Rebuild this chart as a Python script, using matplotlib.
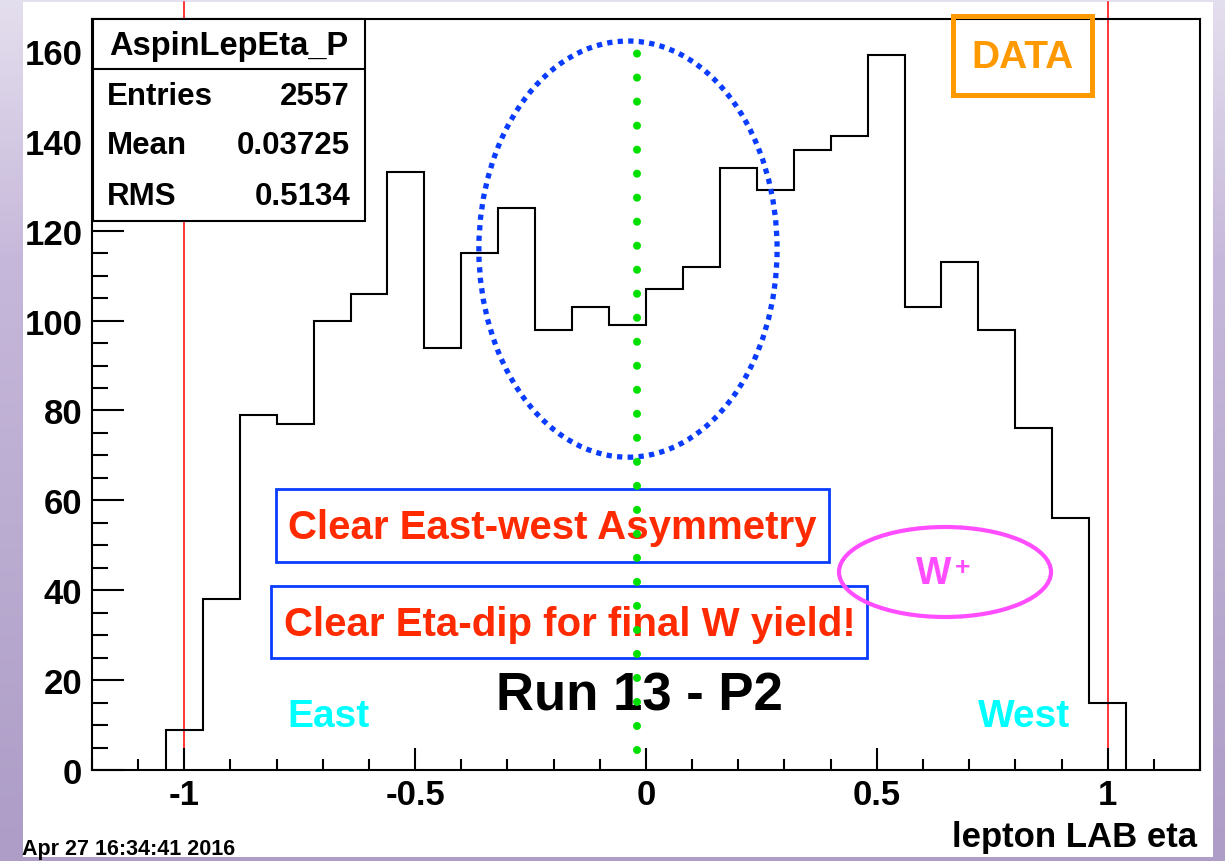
import numpy as np
import matplotlib
matplotlib.use("Agg")
import matplotlib.pyplot as plt
from matplotlib.patches import Rectangle, Ellipse
from matplotlib.colors import LinearSegmentedColormap
from matplotlib.ticker import MultipleLocator

# bin contents (26 bins of 0.08 from -1.04 to 1.04)
counts = [9, 38, 79, 77, 100, 106, 133, 94, 115, 125, 98, 103, 99,
          107, 112, 134, 129, 138, 141, 159, 103, 113, 98, 76, 56, 15]
edges = np.linspace(-1.04, 1.04, 27)

hist_name = "AspinLepEta_P"
stat_names = ["Entries", "Mean", "RMS"]
stat_values = ["2557", "0.03725", "0.5134"]
xticks = [-1, -0.5, 0, 0.5, 1]
xticklabels = ["-1", "-0.5", "0", "0.5", "1"]
yticks = [0, 20, 40, 60, 80, 100, 120, 140, 160]
cut_lines = [-1, 1]
dip_x = -0.02

W, H = 1225, 862
plt.rcParams['font.family'] = ['Liberation Sans', 'DejaVu Sans']
plt.rcParams['font.weight'] = 'bold'

fig = plt.figure(figsize=(W / 100, H / 100), dpi=100)


def P(x, y):
    # pixel position on the slide -> figure fraction
    return x / W, 1 - y / H


# purple slide backdrop with the white ROOT canvas on it
bg = fig.add_axes([0, 0, 1, 1])
bg.set_zorder(-5)
cmap = LinearSegmentedColormap.from_list(
    "slide", [(0.0, "#e4dfee"), (0.3, "#c6b8da"), (1.0, "#ad9dc7")])
bg.imshow(np.linspace(0, 1, 256)[:, None], cmap=cmap, aspect="auto",
          extent=[0, 1, 0, 1])
bg.add_patch(Rectangle(P(23, 858), 1190 / W, 855 / H, facecolor="white",
                       edgecolor="none", transform=bg.transAxes))
bg.set_axis_off()

ax = fig.add_axes([92 / W, 1 - 771 / H, 1108 / W, 751 / H])
ax.set_facecolor("white")
ax.stairs(counts, edges, color="black", lw=1.5, zorder=3)
ax.set_xlim(-1.2, 1.2)
ax.set_ylim(0, 167.1)

ax.set_xticks(xticks)
ax.set_xticklabels(xticklabels)
ax.set_yticks(yticks)
ax.xaxis.set_minor_locator(MultipleLocator(0.1))
ax.yaxis.set_minor_locator(MultipleLocator(5))
ax.tick_params(axis="x", which="major", direction="in", length=16, width=1.5,
               labelsize=25, pad=6)
ax.tick_params(axis="x", which="minor", direction="in", length=8, width=1.5)
ax.tick_params(axis="y", which="major", direction="in", length=23, width=1.5,
               labelsize=25, pad=7)
ax.tick_params(axis="y", which="minor", direction="in", length=11.5, width=1.5)
for s in ax.spines.values():
    s.set_linewidth(1.5)

# red eta cuts, running up to the canvas edge
for xc in cut_lines:
    ax.axvline(xc, 0, (771 - 3) / 751, color="red", lw=1.1, clip_on=False,
               zorder=1.5)

# green dotted line at eta ~ 0 and blue dotted ellipse round the dip
ax.plot([dip_x, dip_x], [4.5, 162.7], color="#00e000", lw=5.8,
        linestyle=(0, (0.001, 2.98)), dash_capstyle="round", zorder=10,
        clip_on=False)
ax.add_patch(Ellipse((-0.039, 115.9), 0.646, 92.6, fill=False,
                     edgecolor="#0a3cff", lw=3.8, linestyle=(0, (1, 1.0)),
                     zorder=4))

tf = fig.transFigure

# stats box
ax.add_patch(Rectangle(P(93, 222), 272 / W, 202 / H, facecolor="white",
                       edgecolor="black", lw=1.5, transform=tf, clip_on=False,
                       zorder=6))
ax.plot([93 / W, 365 / W], [1 - 70 / H, 1 - 70 / H], color="black", lw=1.5,
        transform=tf, clip_on=False, zorder=7)
ax.text(*P(229, 46), hist_name, transform=tf, ha="center", va="center",
        fontsize=23.5, zorder=8)
for i, (nm, val) in enumerate(zip(stat_names, stat_values)):
    y = [97, 146, 197][i]
    ax.text(*P(107, y), nm, transform=tf, ha="left", va="center",
            fontsize=22.5, zorder=8)
    ax.text(*P(350, y), val, transform=tf, ha="right", va="center",
            fontsize=22.5, zorder=8)

# DATA tag
ax.add_patch(Rectangle(P(953, 96), 139 / W, 79 / H, fill=False,
                       edgecolor="#ff9900", lw=3.6, transform=tf,
                       clip_on=False, zorder=7))
ax.text(*P(1023, 58), "DATA", transform=tf, ha="center", va="center",
        fontsize=28, color="#ff9900", zorder=8)

# comment boxes
red = "#ff2a00"
ax.add_patch(Rectangle(P(276, 563), 553 / W, 73 / H, fill=False,
                       edgecolor="#0a3cff", lw=2, transform=tf,
                       clip_on=False, zorder=7))
ax.text(*P(552, 528), "Clear East-west Asymmetry", transform=tf,
        ha="center", va="center", fontsize=29, color=red, zorder=8)
ax.add_patch(Rectangle(P(271, 659), 596 / W, 72 / H, fill=False,
                       edgecolor="#0a3cff", lw=2, transform=tf,
                       clip_on=False, zorder=7))
ax.text(*P(570, 625), "Clear Eta-dip for final W yield!", transform=tf,
        ha="center", va="center", fontsize=29, color=red, zorder=8)

# W+ bubble
mag = "#ff4dff"
ax.add_patch(Ellipse(P(945, 573), 212 / W, 90 / H, fill=False,
                     edgecolor=mag, lw=3, transform=tf, clip_on=False,
                     zorder=7))
ax.text(*P(934, 574), "W", transform=tf, ha="center", va="center",
        fontsize=27, color=mag, zorder=8)
ax.text(*P(963, 568), "+", transform=tf, ha="center", va="center",
        fontsize=19, color=mag, zorder=8)

ax.text(*P(639, 697), "Run 13 - P2", transform=tf, ha="center",
        va="center", fontsize=38, color="black", zorder=8)
ax.text(*P(328, 717), "East", transform=tf, ha="center", va="center",
        fontsize=28, color="#00ffff", zorder=8)
ax.text(*P(1024, 717), "West", transform=tf, ha="center", va="center",
        fontsize=28, color="#00ffff", zorder=8)

ax.text(*P(22, 855), "Apr 27 16:34:41 2016", transform=tf, ha="left",
        va="baseline", fontsize=15.5, zorder=8)
ax.text(*P(1197, 838), "lepton LAB eta", transform=tf, ha="right",
        va="center", fontsize=25, zorder=8)

fig.savefig("out.png", dpi=100)
